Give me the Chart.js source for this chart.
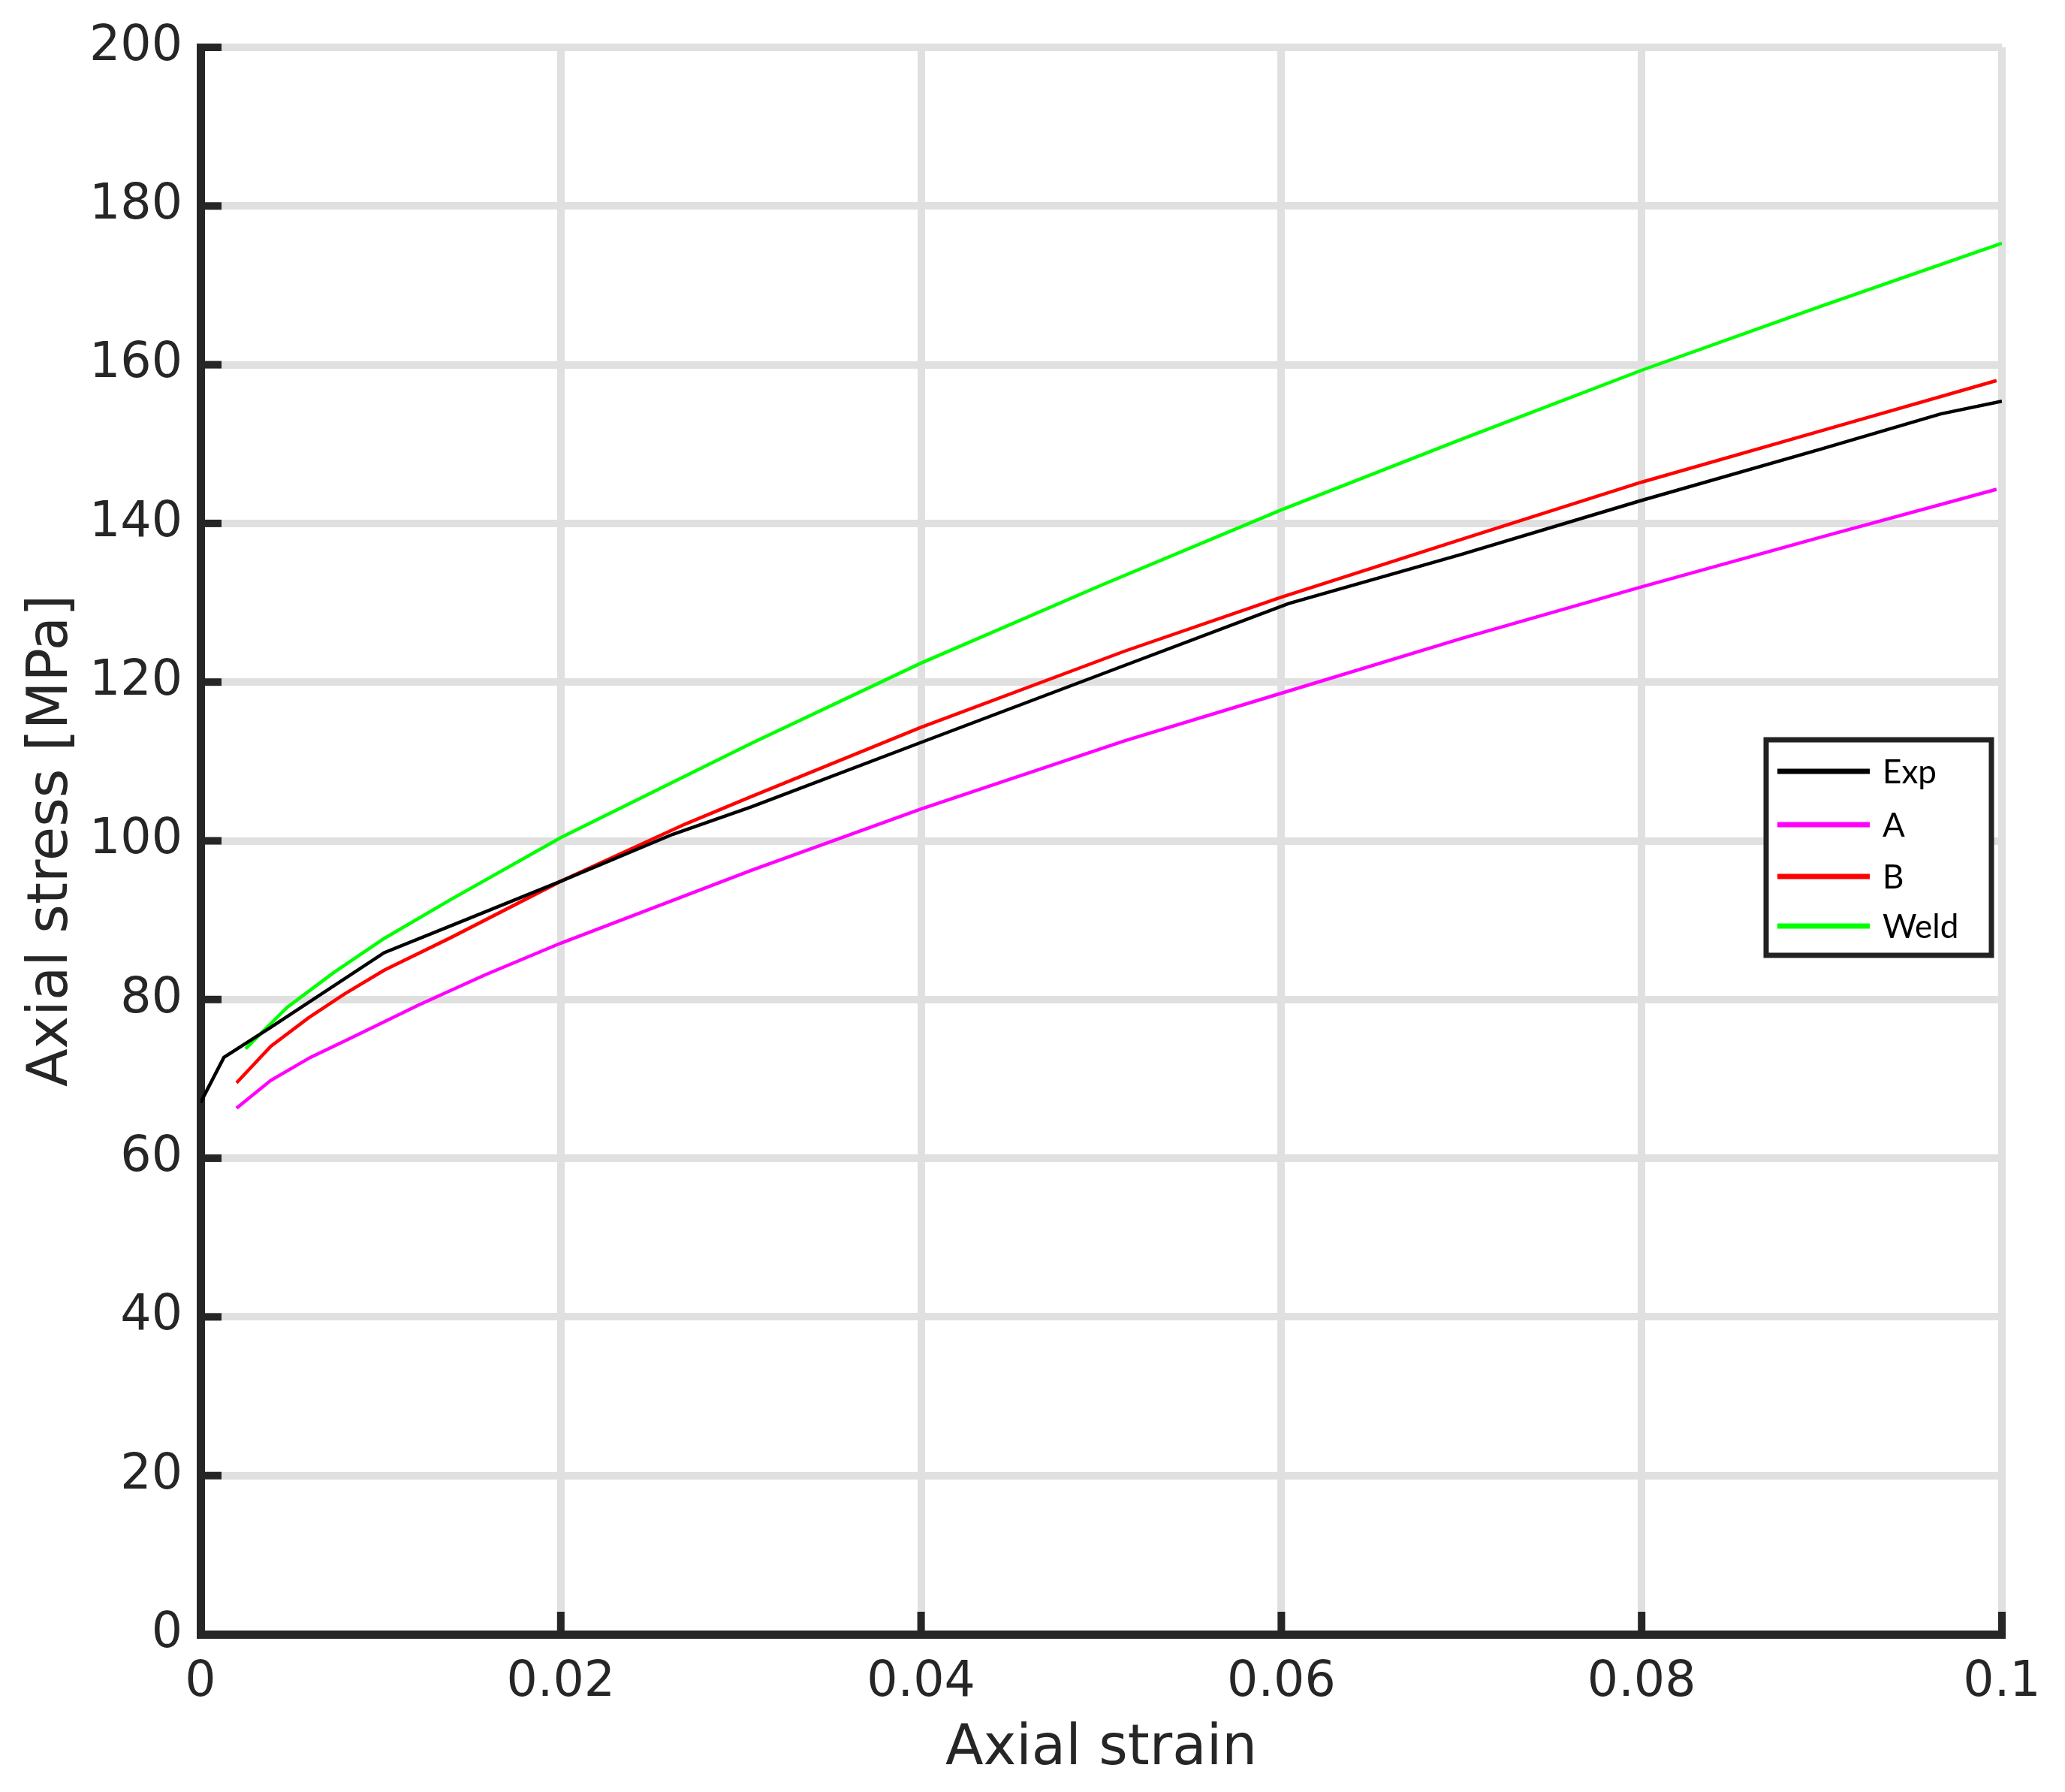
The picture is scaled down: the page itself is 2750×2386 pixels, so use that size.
<!DOCTYPE html>
<html>
<head>
<meta charset="utf-8">
<script src="https://cdn.jsdelivr.net/npm/chart.js@4.4.1/dist/chart.umd.min.js"></script>
<style>
  html, body { margin: 0; padding: 0; background: #fff; }
  canvas { display: block; }
</style>
</head>
<body>
<canvas id="mychart" width="2750" height="2386"></canvas>
<script>
// series values (strain, stress in MPa)
var expStrain = [0, 0.0013, 0.0039, 0.0102, 0.0139, 0.02, 0.0262, 0.0306, 0.04, 0.0513, 0.0604, 0.07, 0.08, 0.09, 0.0966, 0.1]
var expStress = [67.0, 72.7, 76.5, 85.9, 89.3, 94.9, 100.8, 104.3, 112.4, 122.1, 129.9, 136.1, 142.9, 149.4, 153.8, 155.4]

var aStrain = [0.002, 0.0039, 0.0061, 0.0084, 0.0121, 0.0158, 0.02, 0.0306, 0.04, 0.0513, 0.06, 0.07, 0.08, 0.09, 0.0997]
var aStress = [66.3, 69.8, 72.7, 75.2, 79.3, 83.1, 87.1, 96.3, 104.0, 112.6, 118.6, 125.5, 132.0, 138.3, 144.3]

var bStrain = [0.002, 0.0039, 0.006, 0.008, 0.0102, 0.0139, 0.02, 0.0269, 0.0306, 0.04, 0.0513, 0.06, 0.07, 0.08, 0.09, 0.0997]
var bStress = [69.5, 74.1, 77.7, 80.7, 83.7, 87.8, 94.9, 102.1, 105.6, 114.3, 123.9, 130.7, 138.0, 145.2, 151.7, 158.0]

var weldStrain = [0.0025, 0.0048, 0.0074, 0.0102, 0.0139, 0.02, 0.0306, 0.04, 0.05, 0.06, 0.07, 0.08, 0.09, 0.1]
var weldStress = [73.8, 79.0, 83.4, 87.7, 92.6, 100.4, 112.3, 122.4, 132.2, 141.7, 150.6, 159.3, 167.4, 175.3]

var seriesNames = ["Exp", "A", "B", "Weld"]
var xTicks = [0, 0.02, 0.04, 0.06, 0.08, 0.1]
var yTicks = [0, 20, 40, 60, 80, 100, 120, 140, 160, 180, 200]

function pts(xs, ys){
    return xs.map(function(x, i){ return {x: x, y: ys[i]} })
}

var axisColor = "#262626"
var gridColor = "#e0e0e0"

// matlab style ticks pointing into the plot
var inwardTicks = {
    id: "inwardTicks",
    afterDatasetsDraw: function(chart){
        var ctx = chart.ctx, area = chart.chartArea
        var xs = chart.scales.x, ys = chart.scales.y
        ctx.save()
        ctx.strokeStyle = axisColor
        ctx.lineWidth = 10
        ctx.lineCap = "butt"
        xTicks.forEach(function(v){
            var px = xs.getPixelForValue(v)
            ctx.beginPath()
            ctx.moveTo(px, area.bottom)
            ctx.lineTo(px, area.bottom - 30)
            ctx.stroke()
        })
        yTicks.forEach(function(v){
            var py = ys.getPixelForValue(v)
            ctx.beginPath()
            ctx.moveTo(area.left, py)
            ctx.lineTo(area.left + 28, py)
            ctx.stroke()
        })
        ctx.restore()
    }
}

// boxed legend in the right part of the plot
var boxLegend = {
    id: "boxLegend",
    afterDraw: function(chart){
        var ctx = chart.ctx, area = chart.chartArea
        var right = area.right - 14, left = right - 300
        var top = 985, bottom = 1272
        ctx.save()
        ctx.fillStyle = "#fff"
        ctx.fillRect(left, top, right - left, bottom - top)
        ctx.strokeStyle = "#222"
        ctx.lineWidth = 7
        ctx.strokeRect(left, top, right - left, bottom - top)
        var rows = [1027, 1098, 1167, 1233]
        ctx.font = "44px Lato"
        ctx.textBaseline = "middle"
        ctx.textAlign = "left"
        chart.data.datasets.forEach(function(ds, i){
            ctx.strokeStyle = ds.borderColor
            ctx.lineWidth = 7
            ctx.beginPath()
            ctx.moveTo(left + 15, rows[i])
            ctx.lineTo(left + 138, rows[i])
            ctx.stroke()
            ctx.fillStyle = "#000"
            ctx.fillText(ds.label, left + 155, rows[i] + 2)
        })
        ctx.restore()
    }
}

var mychart = document.getElementById("mychart").getContext("2d")

var chart = new Chart(mychart, {
    type: "line",
    data: {
        datasets: [
            { label: seriesNames[0], data: pts(expStrain, expStress), borderColor: "#000000" },
            { label: seriesNames[1], data: pts(aStrain, aStress), borderColor: "#ff00ff" },
            { label: seriesNames[2], data: pts(bStrain, bStress), borderColor: "#ff0000" },
            { label: seriesNames[3], data: pts(weldStrain, weldStress), borderColor: "#00ff00" }
        ]
    },
    options: {
        responsive: false,
        animation: false,
        devicePixelRatio: 1,
        datasets: {
            line: { borderWidth: 4.5, pointRadius: 0, tension: 0, fill: false }
        },
        layout: { padding: { left: 0, right: 84, top: 58, bottom: 0 } },
        plugins: {
            legend: { display: false },
            tooltip: { enabled: false }
        },
        scales: {
            x: {
                type: "linear",
                min: 0,
                max: 0.1,
                afterBuildTicks: function(scale){
                    scale.ticks = xTicks.map(function(v){ return {value: v} })
                },
                afterFit: function(scale){ scale.height = 210 },
                ticks: {
                    color: axisColor,
                    font: { family: "DejaVu Sans", size: 65 },
                    padding: 26,
                    maxRotation: 0,
                    callback: function(v){ return String(+v.toFixed(2)) }
                },
                grid: { color: gridColor, lineWidth: 10, drawTicks: false },
                border: { color: axisColor, width: 11 },
                title: {
                    display: true,
                    text: "Axial strain",
                    color: axisColor,
                    font: { family: "DejaVu Sans", size: 74, lineHeight: 1 },
                    padding: { top: 0, bottom: 19 }
                }
            },
            y: {
                min: 0,
                max: 200,
                afterBuildTicks: function(scale){
                    scale.ticks = yTicks.map(function(v){ return {value: v} })
                },
                afterFit: function(scale){ scale.width = 267 },
                ticks: {
                    color: axisColor,
                    font: { family: "DejaVu Sans", size: 65 },
                    padding: 24
                },
                grid: { color: gridColor, lineWidth: 10, drawTicks: false },
                border: { color: axisColor, width: 11 },
                title: {
                    display: true,
                    text: "Axial stress [MPa]",
                    color: axisColor,
                    font: { family: "DejaVu Sans", size: 74, lineHeight: 1 },
                    padding: { top: 33, bottom: 0 }
                }
            }
        }
    },
    plugins: [inwardTicks, boxLegend]
})
</script>
</body>
</html>
